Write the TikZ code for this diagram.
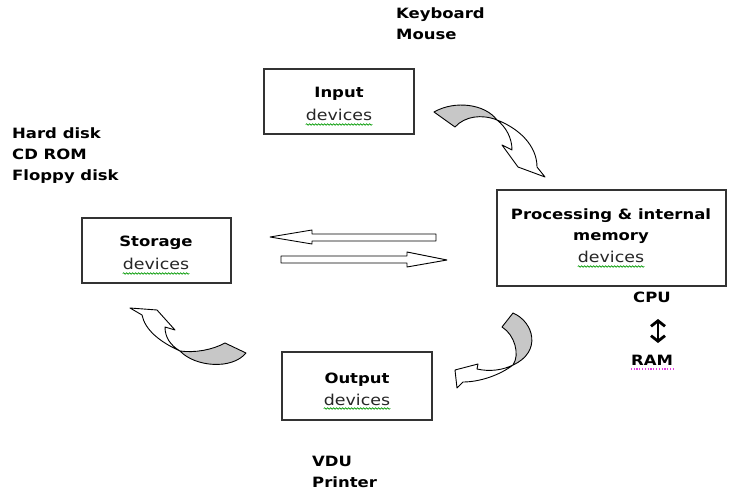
\documentclass[tikz,border=0pt]{standalone}
\usepackage{fontspec}
\setmainfont{DejaVu Sans}[FakeStretch=1.16]
\usetikzlibrary{arrows.meta,decorations.pathmorphing}
\definecolor{spellpink}{RGB}{225,60,225}

\begin{document}
\begin{tikzpicture}[x=1pt,y=-1pt,
  box/.style={draw=black!80, line width=1.2pt, fill=white, inner sep=0},
  bold/.style={font=\fontsize{14.2}{17}\selectfont\bfseries, text=black, inner sep=0},
  plain/.style={font=\fontsize{15}{17}\selectfont, text=black!85, inner sep=0},
  spell/.style={draw=green!60!black, line width=0.6pt, decorate,
    decoration={snake, amplitude=0.8pt, segment length=3pt}},
  grammar/.style={draw=spellpink, line width=1.3pt, dash pattern=on 1.2pt off 1.6pt},
  ribbon/.style={draw=black, line width=0.9pt, line join=round},
  backside/.style={ribbon, fill=black!22},
  frontside/.style={ribbon, fill=white},
]
\useasboundingbox (0,0) rectangle (739,494);

% ---- boxes ----
\node[box, minimum width=150, minimum height=65] (input) at (339,101.5) {};
\node[box, minimum width=229, minimum height=96] (proc) at (611.5,238) {};
\node[box, minimum width=149, minimum height=65] (store) at (156.5,250.5) {};
\node[box, minimum width=150, minimum height=68] (output) at (357,386) {};

% ---- box texts ----
\node[bold, anchor=base] (inT) at (339,98) {Input};
\node[plain, anchor=base] (inD) at (339,121) {devices};
\node[bold, anchor=base] (prT1) at (611,220) {Processing \& internal};
\node[bold, anchor=base] (prT2) at (611,241) {memory};
\node[plain, anchor=base] (prD) at (611,263) {devices};
\node[bold, anchor=base] (stT) at (156,247) {Storage};
\node[plain, anchor=base] (stD) at (156,270) {devices};
\node[bold, anchor=base] (ouT) at (357,383) {Output};
\node[plain, anchor=base] (ouD) at (357,405) {devices};

\foreach \d in {inD,prD,stD,ouD}
  \draw[spell] ([yshift=-3.5pt]\d.base west) -- ([yshift=-3.5pt]\d.base east);

% ---- side lists ----
\node[bold, anchor=base west] (kb) at (396,19) {Keyboard};
\node[bold, anchor=base west] (ms) at (396,40) {Mouse};
\node[bold, anchor=base west] (hd) at (12,139) {Hard disk};
\node[bold, anchor=base west] (cd) at (12,160) {CD ROM};
\node[bold, anchor=base west] (fd) at (12,181) {Floppy disk};
\node[bold, anchor=base west] (vdu) at (312,466) {VDU};
\node[bold, anchor=base west] (prn) at (312,487) {Printer};
\node[bold, anchor=base] (cpu) at (652,303) {CPU};
\node[bold, anchor=base] (ram) at (652,365) {RAM};
\draw[grammar] ([yshift=-4pt]ram.base west) -- ([yshift=-4pt]ram.base east);

% CPU <-> RAM
\coordinate (cpuend) at (658,319);
\coordinate (ramend) at (658,343);
\draw[line width=2.8pt, {Straight Barb[length=5.5pt,width=14pt]}-{Straight Barb[length=5.5pt,width=14pt]}]
  (cpuend) -- (ramend);

% ---- block arrows between storage and processing ----
\draw[ribbon, fill=white] (270,237) -- (312,230) -- (312,234) -- (436,234)
  -- (436,241) -- (312,241) -- (312,244) -- cycle;
\draw[ribbon, fill=white] (447,260) -- (407,252) -- (407,256) -- (281,256)
  -- (281,263) -- (407,263) -- (407,267) -- cycle;

% ---- curved arrow: input -> processing ----
\draw[backside] (434,112) .. controls (455,100) and (485,104) .. (497,120)
  .. controls (482,114) and (465,116) .. (455,127) -- cycle;
\draw[frontside] (497,120) .. controls (518,128) and (537,145) .. (537,167)
  -- (545,177) -- (518,167) -- (502,145) -- (512,150)
  .. controls (512,138) and (506,127) .. (497,120) -- cycle;

% ---- curved arrow: processing -> output ----
\draw[backside] (513,313) .. controls (534,322) and (542,352) .. (513,365)
  .. controls (520,355) and (515,335) .. (502,327) -- cycle;
\draw[frontside] (513,365) .. controls (500,375) and (480,382) .. (463,382)
  -- (457,388) -- (455,370) -- (478,364) -- (477,369)
  .. controls (490,372) and (503,370) .. (513,365) -- cycle;

% ---- curved arrow: output -> storage ----
\draw[backside] (225,343) .. controls (212,350) and (195,353) .. (180,351)
  .. controls (195,367) and (232,370) .. (246,353) -- cycle;
\draw[frontside] (180,351) .. controls (160,342) and (145,330) .. (142,315)
  -- (130,308) -- (157,310) -- (175,330) -- (165,327)
  .. controls (165,337) and (170,345) .. (180,351) -- cycle;
\end{tikzpicture}
\end{document}
